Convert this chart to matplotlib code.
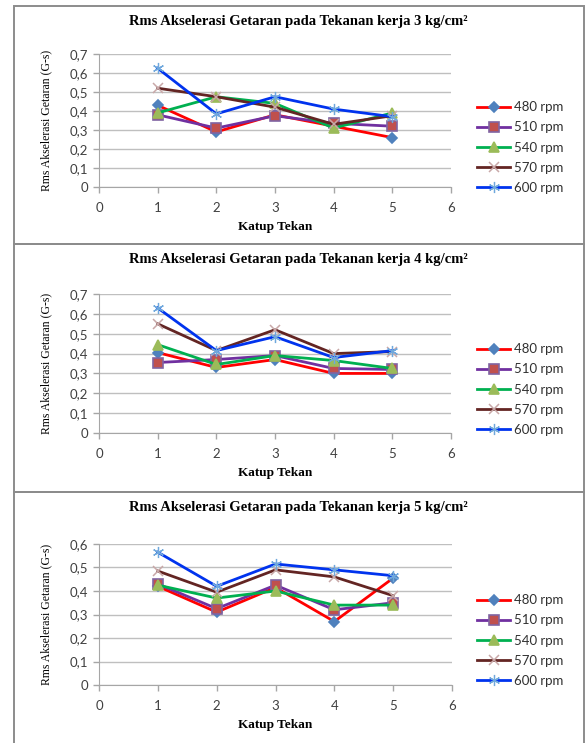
import matplotlib
matplotlib.use("Agg")
import matplotlib.pyplot as plt
from matplotlib.patches import Rectangle
from matplotlib.ticker import FuncFormatter, MultipleLocator

# ---------------------------------------------------------------------------
# Data: Rms vibration acceleration per valve setting, three working pressures
# ---------------------------------------------------------------------------
katup = [1, 2, 3, 4, 5]
rpm_labels = ["480 rpm", "510 rpm", "540 rpm", "570 rpm", "600 rpm"]
pressures = [3, 4, 5]

p3_480 = [0.43, 0.29, 0.38, 0.32, 0.26]
p3_510 = [0.38, 0.31, 0.375, 0.335, 0.32]
p3_540 = [0.39, 0.475, 0.44, 0.31, 0.39]
p3_570 = [0.52, 0.475, 0.42, 0.33, 0.375]
p3_600 = [0.625, 0.385, 0.475, 0.41, 0.37]

p4_480 = [0.405, 0.33, 0.37, 0.30, 0.30]
p4_510 = [0.355, 0.37, 0.39, 0.325, 0.32]
p4_540 = [0.445, 0.345, 0.39, 0.365, 0.325]
p4_570 = [0.55, 0.415, 0.52, 0.40, 0.41]
p4_600 = [0.63, 0.415, 0.485, 0.38, 0.415]

p5_480 = [0.42, 0.31, 0.415, 0.27, 0.455]
p5_510 = [0.43, 0.325, 0.425, 0.32, 0.35]
p5_540 = [0.425, 0.37, 0.40, 0.34, 0.34]
p5_570 = [0.485, 0.395, 0.49, 0.46, 0.38]
p5_600 = [0.565, 0.42, 0.515, 0.49, 0.465]

panels = [
    [p3_480, p3_510, p3_540, p3_570, p3_600],
    [p4_480, p4_510, p4_540, p4_570, p4_600],
    [p5_480, p5_510, p5_540, p5_570, p5_600],
]
y_max = [0.7, 0.7, 0.6]

# (line colour, marker, marker face, marker edge, marker size, edge width)
styles = [
    ("#FF0000", "D", "#4F81BD", "#4F81BD", 5, 1.2),
    ("#7030A0", "s", "#C0504D", "#8064A2", 6.5, 1.2),
    ("#00B050", "^", "#9BBB59", "#9BBB59", 7, 1.2),
    ("#632523", "x", "#C8A8A8", "#C8A8A8", 7, 1.1),
    ("#0033EE", (6, 2, 0), "#4BACC6", "#6FA8DC", 8, 0.9),
]

W, H = 586, 743
fig = plt.figure(figsize=(W / 100, H / 100), dpi=100)
fig.patch.set_facecolor("white")


def fx(px):
    return px / W


def fy(py):
    return 1 - py / H


# panel frames (top, bottom) and plot areas (left, top, right, bottom) in px
frames = [(6, 244), (244, 492), (492, 748)]
areas = [(99, 54, 451, 187), (99, 294, 451, 433), (99, 544, 452, 685)]
legend_top = [96, 338, 589]

comma = FuncFormatter(lambda v, _: "0" if abs(v) < 1e-9 else f"{v:.1f}".replace(".", ","))

for i, (series, ymax, fr, ar) in enumerate(zip(panels, y_max, frames, areas)):
    fig.patches.append(Rectangle((fx(14), fy(fr[1])), fx(584) - fx(14), fy(fr[0]) - fy(fr[1]),
                                 transform=fig.transFigure, fill=False,
                                 edgecolor="#8C8C8C", linewidth=1.4, zorder=0))

    l, t, r, b = ar
    ax = fig.add_axes([fx(l), fy(b), fx(r) - fx(l), fy(t) - fy(b)])
    for vals, lab, (lc, mk, mf, me, ms, mew) in zip(series, rpm_labels, styles):
        ax.plot(katup, vals, color=lc, linewidth=2, marker=mk, markersize=ms,
                markerfacecolor=mf, markeredgecolor=me, markeredgewidth=mew,
                label=lab, clip_on=False)

    ax.set_xlim(0, 6)
    ax.set_ylim(0, ymax)
    ax.xaxis.set_major_locator(MultipleLocator(1))
    ax.yaxis.set_major_locator(MultipleLocator(0.1))
    ax.yaxis.set_major_formatter(comma)
    ax.grid(axis="y", color="#BFBFBF", linewidth=1)
    ax.set_axisbelow(True)
    for s in ["top", "right"]:
        ax.spines[s].set_visible(False)
    for s in ["left", "bottom"]:
        ax.spines[s].set_color("#A6A6A6")
    ax.tick_params(axis="both", colors="#A6A6A6", length=4, width=1,
                   labelcolor="#404040", labelsize=9.5)
    ax.tick_params(axis="x", pad=7)
    ax.tick_params(axis="y", pad=4)
    for lbl in ax.get_xticklabels() + ax.get_yticklabels():
        lbl.set_fontfamily("Lato")

    ax.set_xlabel("Katup Tekan", fontfamily="Liberation Serif", fontweight="bold",
                  fontsize=9.5, labelpad=5)
    ax.set_ylabel("Rms Akselerasi Getaran (G-s)", fontfamily="Liberation Serif",
                  fontsize=8.5, labelpad=12)

    fig.text(fx(298), fy(fr[0] + 16),
             f"Rms Akselerasi Getaran pada Tekanan kerja {pressures[i]} kg/cm²",
             ha="center", va="center", fontfamily="Liberation Serif",
             fontweight="bold", fontsize=10.5)

    leg = ax.legend(loc="upper left", bbox_to_anchor=(fx(472), fy(legend_top[i])),
                    bbox_transform=fig.transFigure, frameon=False,
                    prop={"family": "Lato", "size": 9.5}, handlelength=2.5,
                    handletextpad=0.25, labelspacing=0.62, borderaxespad=0)
    for txt in leg.get_texts():
        txt.set_color("#303030")

fig.savefig("out.png", dpi=100)
